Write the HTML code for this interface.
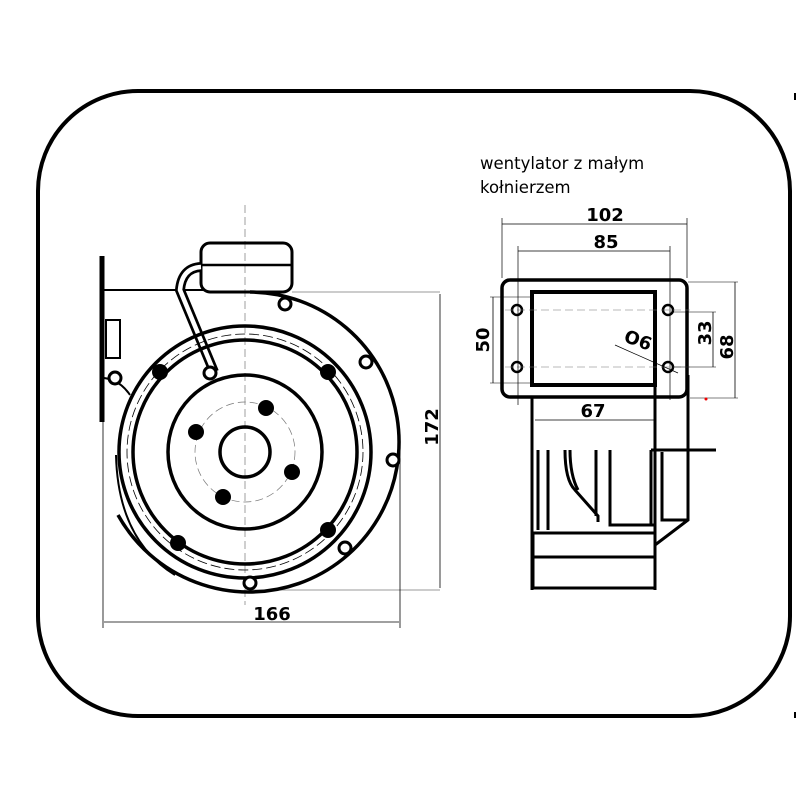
<!DOCTYPE html>
<html><head><meta charset="utf-8"><style>html,body{margin:0;padding:0;background:#fff}svg{display:block}</style></head><body>
<svg width="800" height="800" viewBox="0 0 800 800" xmlns="http://www.w3.org/2000/svg" font-family="DejaVu Sans, Liberation Sans, sans-serif">
<rect x="38" y="91" width="752" height="625" rx="100" fill="none" stroke="#000" stroke-width="4"/>
<line x1="795" y1="93" x2="795" y2="100" stroke="#000" stroke-width="2"/>
<line x1="795" y1="712" x2="795" y2="718" stroke="#000" stroke-width="2"/>
<text x="480" y="169" font-size="16.5">wentylator z małym</text>
<text x="480" y="193" font-size="16.5">kołnierzem</text>
<g fill="none" stroke="#000">
<line x1="245" y1="205" x2="245" y2="605" stroke-width="0.7" stroke-dasharray="8,4" stroke="#777"/>
<line x1="102" y1="256" x2="102" y2="422" stroke-width="5"/>
<line x1="104" y1="290" x2="205" y2="290" stroke-width="2"/>
<rect x="106" y="320" width="14" height="38" stroke-width="2"/>
<path d="M104 378 Q120 380 130 395" stroke-width="2"/>
<rect x="201" y="243" width="91" height="49" rx="9" stroke-width="3"/>
<line x1="202" y1="265" x2="291" y2="265" stroke-width="2.5"/>
<path d="M201 267 Q182 268 180 290 L214 372" stroke-width="10"/>
<path d="M201 267 Q182 268 180 290 L214 372" stroke-width="4.5" stroke="#fff"/>
<path d="M292 292 L440 292 M250 590 L440 590" stroke-width="0.7" stroke="#777"/>
<path d="M250 292 A150 150 0 1 1 118 515" stroke-width="3.5"/>
<path d="M116 455 Q118 540 175 575" stroke-width="2"/>
<circle cx="245" cy="452" r="126" stroke-width="3.5"/>
<circle cx="245" cy="452" r="112" stroke-width="3.5"/>
<circle cx="245" cy="452" r="118" stroke-width="0.8" stroke-dasharray="10,4"/>
<circle cx="245" cy="452" r="77" stroke-width="3.5"/>
<circle cx="245" cy="452" r="50" stroke-width="0.7" stroke-dasharray="8,4" stroke="#777"/>
<circle cx="245" cy="452" r="25" stroke-width="3.5"/>
<line x1="440" y1="294" x2="440" y2="588" stroke-width="0.8"/>
<line x1="103" y1="400" x2="103" y2="628" stroke-width="0.8"/>
<line x1="400" y1="440" x2="400" y2="628" stroke-width="0.8"/>
<line x1="104" y1="622" x2="399" y2="622" stroke-width="0.8"/>
<rect x="502" y="280" width="185" height="117" rx="8" stroke-width="3.5"/>
<rect x="532" y="292" width="123" height="93" stroke-width="4"/>
<circle cx="517" cy="310" r="5" stroke-width="2.5"/>
<circle cx="668" cy="310" r="5" stroke-width="2.5"/>
<circle cx="517" cy="367" r="5" stroke-width="2.5"/>
<circle cx="668" cy="367" r="5" stroke-width="2.5"/>
<path d="M505 310 H690 M505 367 H690" stroke-width="0.6" stroke-dasharray="8,4" stroke="#777"/>
<line x1="502" y1="218" x2="502" y2="278" stroke-width="0.7"/>
<line x1="687" y1="218" x2="687" y2="278" stroke-width="0.7"/>
<line x1="502" y1="224" x2="687" y2="224" stroke-width="0.8"/>
<line x1="518" y1="246" x2="518" y2="405" stroke-width="0.7"/>
<line x1="670" y1="246" x2="670" y2="400" stroke-width="0.7"/>
<line x1="518" y1="251" x2="670" y2="251" stroke-width="0.8"/>
<line x1="493" y1="297" x2="493" y2="383" stroke-width="0.8"/>
<path d="M490 297 H530 M490 383 H530" stroke-width="0.6"/>
<line x1="713" y1="312" x2="713" y2="367" stroke-width="0.8"/>
<line x1="735" y1="282" x2="735" y2="398" stroke-width="0.8"/>
<path d="M688 282 H738 M672 312 H716 M672 367 H716 M690 398 H738" stroke-width="0.6"/>
<line x1="535" y1="420" x2="655" y2="420" stroke-width="0.8"/>
<line x1="615" y1="345" x2="678" y2="373" stroke-width="0.7"/>
<path d="M532 397 V590 M655 385 V590 M688 375 V520 L655 545" stroke-width="3"/>
<path d="M538 450 V530 M548 450 V530 M565 450 Q565 480 575 490 L598 516 V522 M570 450 Q570 475 578 490 M596 450 V516 M610 450 V525 H655 M651 450 H716 M651 450 V525 M662 452 V520 H688" stroke-width="3"/>
<rect x="533" y="533" width="122" height="55" stroke-width="3"/>
<line x1="533" y1="557" x2="655" y2="557" stroke-width="3"/>
</g>
<g fill="#000">
<circle cx="266" cy="408" r="8"/><circle cx="196" cy="432" r="8"/><circle cx="292" cy="472" r="8"/><circle cx="223" cy="497" r="8"/>
<circle cx="160" cy="372" r="8"/><circle cx="328" cy="372" r="8"/><circle cx="328" cy="530" r="8"/><circle cx="178" cy="543" r="8"/>
<circle cx="706" cy="399" r="1.5" fill="#e00"/>
</g>
<g fill="#fff" stroke="#000" stroke-width="3">
<circle cx="285" cy="304" r="6"/><circle cx="366" cy="362" r="6"/><circle cx="393" cy="460" r="6"/><circle cx="345" cy="548" r="6"/><circle cx="250" cy="583" r="6"/><circle cx="115" cy="378" r="6"/><circle cx="210" cy="373" r="6"/>
</g>
<g font-weight="bold" font-size="18" text-anchor="middle">
<text x="272" y="620">166</text>
<text x="605" y="221">102</text>
<text x="606" y="248">85</text>
<text x="593" y="417">67</text>
<text transform="translate(438,427) rotate(-90)">172</text>
<text transform="translate(489,340) rotate(-90)">50</text>
<text transform="translate(711,333) rotate(-90)">33</text>
<text transform="translate(733,347) rotate(-90)">68</text>
<text transform="translate(636,346) rotate(20)">O6</text>
</g>
</svg>
</body></html>
